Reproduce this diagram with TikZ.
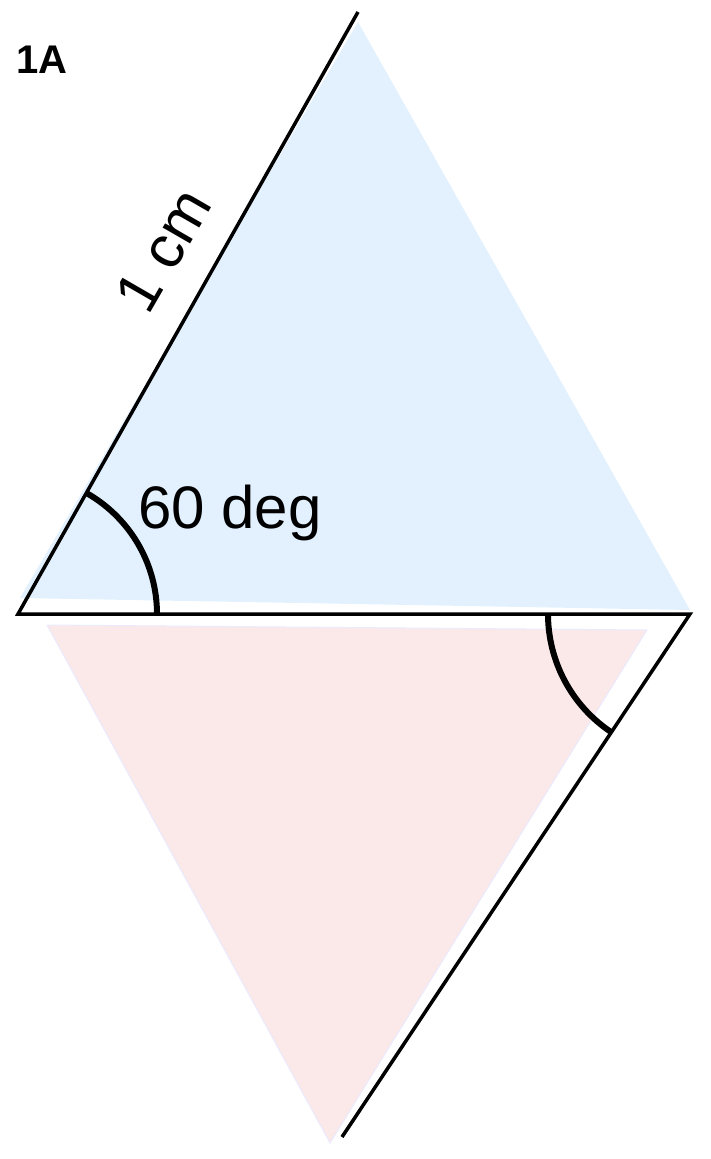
\documentclass[tikz,border=0pt]{standalone}
\usepackage{fontspec}
\setmainfont{Liberation Sans}
\usetikzlibrary{positioning,calc}
\definecolor{skyfill}{RGB}{226,241,253}
\definecolor{rosefill}{RGB}{251,232,232}
\tikzset{font=\fontsize{60}{64}\selectfont}

\begin{document}
\begin{tikzpicture}[x=1pt, y=-1pt]
	\useasboundingbox (0,0) rectangle (710,1159);
	\begin{scope}
		\tikzstyle{every node}=[align=center, inner sep=1pt]
		\coordinate (o) at (18,614);
		\coordinate (top) at (358,12);
		\coordinate (r) at (690,614);
		\coordinate (bot) at (342,1137);

		% the two triangles
		\fill[skyfill] (20,598) -- (358,22) -- (690,610) -- cycle;
		\fill[rosefill, draw=blue!8, line width=1pt] (47,625) -- (647,630) -- (330,1143) -- cycle;

		\draw[line width=3.5pt, line join=miter] (top) -- (o) -- (r) -- (bot);
		\draw[line width=6pt] ($(o)+(0:139)$) arc (0:-60:139);
		\draw[line width=6pt] ($(r)+(180:142)$) arc (180:124:142);

		\node (tag) at (42,60) {\fontsize{40}{44}\selectfont\bfseries 1A};
		\node (deg) at (230,513) {60 deg};
		\node[rotate=60] (cm) at (163,250) {1 cm};
	\end{scope}
\end{tikzpicture}
\end{document}
